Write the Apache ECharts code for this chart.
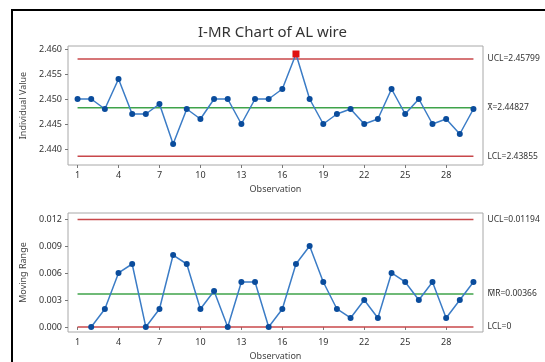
<!DOCTYPE html>
<html>
<head>
<meta charset="utf-8">
<script src="https://cdn.jsdelivr.net/npm/echarts@6/dist/echarts.min.js"></script>
<style>
  html, body { margin: 0; padding: 0; background: #fff; }
  #chart { width: 545px; height: 362px; }
</style>
</head>
<body>
<div id="chart"></div>
<script>
// ---- data ----
const observations = [1,2,3,4,5,6,7,8,9,10,11,12,13,14,15,16,17,18,19,20,21,22,23,24,25,26,27,28,29,30];
const individualValues = [2.450,2.450,2.448,2.454,2.447,2.447,2.449,2.441,2.448,2.446,
                          2.450,2.450,2.445,2.450,2.450,2.452,2.459,2.450,2.445,2.447,
                          2.448,2.445,2.446,2.452,2.447,2.450,2.445,2.446,2.443,2.448];
const movingRanges = [null,0.000,0.002,0.006,0.007,0.000,0.002,0.008,0.007,0.002,
                      0.004,0.000,0.005,0.005,0.000,0.002,0.007,0.009,0.005,0.002,
                      0.001,0.003,0.001,0.006,0.005,0.003,0.005,0.001,0.003,0.005];
const outOfControl = [17];
const xTickLabels = [1,4,7,10,13,16,19,22,25,28];
const iTickLabels = [2.440,2.445,2.450,2.455,2.460];
const mrTickLabels = [0.000,0.003,0.006,0.009,0.012];
const iLimits = [2.45799, 2.44827, 2.43855];   // UCL, X-bar, LCL
const mrLimits = [0.01194, 0.00366, 0];        // UCL, MR-bar, LCL
const iLimitLabels = ['UCL=2.45799', 'X\u0304=2.44827', 'LCL=2.43855'];
const mrLimitLabels = ['UCL=0.01194', 'M\u0304R\u0304=0.00366', 'LCL=0'];

// ---- styles ----
const FONT = 'Noto Sans';
const RED = '#c8474a', GREEN = '#3fa34a', LINE = '#3b7cc6', DOT = '#0a4c9c';
const first = observations[0], last = observations[observations.length - 1];

const iData = observations.map((o, i) => outOfControl.includes(o)
  ? { value: [o, individualValues[i]], symbol: 'rect', symbolSize: 7, itemStyle: { color: '#e01010' } }
  : [o, individualValues[i]]);
const mrData = observations.map((o, i) => [o, movingRanges[i]]).filter(d => d[1] !== null);

function limitSeries(xi, y, label, color) {
  return {
    type: 'line', xAxisIndex: xi, yAxisIndex: xi, z: 2,
    data: [[first, y], [last, y]], symbol: 'none', silent: true,
    lineStyle: { color: color, width: 1.5 },
    endLabel: { show: true, formatter: label, distance: 14, color: '#333', fontSize: 8.5, fontFamily: FONT }
  };
}

function xAxis(gi) {
  return {
    type: 'value', gridIndex: gi, min: 0.3, max: 30.7,
    name: 'Observation', nameLocation: 'middle', nameGap: 20,
    nameTextStyle: { color: '#444', fontSize: 9, fontFamily: FONT },
    axisLine: { show: false }, splitLine: { show: false },
    axisTick: { show: true, customValues: xTickLabels, length: 3, lineStyle: { color: '#777' } },
    axisLabel: { customValues: xTickLabels, margin: 6, color: '#333', fontSize: 9, fontFamily: FONT }
  };
}
function yAxis(gi, name, ticks, min, max) {
  return {
    type: 'value', gridIndex: gi, min: min, max: max,
    name: name, nameLocation: 'middle', nameGap: 33,
    nameTextStyle: { color: '#444', fontSize: 9, fontFamily: FONT },
    axisLine: { show: false }, splitLine: { show: false },
    axisTick: { show: true, customValues: ticks, length: 3, lineStyle: { color: '#777' } },
    axisLabel: { customValues: ticks, margin: 6, color: '#333', fontSize: 9, fontFamily: FONT,
                 formatter: v => v.toFixed(3) }
  };
}

const chart = echarts.init(document.getElementById('chart'));
chart.setOption({
  animation: false,
  backgroundColor: '#fff',
  title: {
    text: 'I-MR Chart of AL wire', left: 'center', top: 20,
    textStyle: { fontFamily: FONT, fontSize: 15, fontWeight: 'normal', color: '#333' }
  },
  graphic: [{
    type: 'rect', shape: { x: 12, y: 10, width: 600, height: 400 },
    style: { fill: 'none', stroke: '#000', lineWidth: 2 }, silent: true
  }],
  grid: [
    { left: 68, right: 62, top: 46, height: 119, show: true, borderColor: '#a8a8a8', borderWidth: 1 },
    { left: 68, right: 62, top: 213, height: 119, show: true, borderColor: '#a8a8a8', borderWidth: 1 }
  ],
  xAxis: [xAxis(0), xAxis(1)],
  yAxis: [
    yAxis(0, 'Individual Value', iTickLabels, 2.4368, 2.4606),
    yAxis(1, 'Moving Range', mrTickLabels, -0.00056, 0.01267)
  ],
  series: [
    limitSeries(0, iLimits[0], iLimitLabels[0], RED),
    limitSeries(0, iLimits[1], iLimitLabels[1], GREEN),
    limitSeries(0, iLimits[2], iLimitLabels[2], RED),
    limitSeries(1, mrLimits[0], mrLimitLabels[0], RED),
    limitSeries(1, mrLimits[1], mrLimitLabels[1], GREEN),
    limitSeries(1, mrLimits[2], mrLimitLabels[2], RED),
    {
      type: 'line', xAxisIndex: 0, yAxisIndex: 0, z: 5, data: iData,
      symbol: 'circle', symbolSize: 6,
      lineStyle: { color: LINE, width: 1.5 }, itemStyle: { color: DOT }
    },
    {
      type: 'line', xAxisIndex: 1, yAxisIndex: 1, z: 5, data: mrData,
      symbol: 'circle', symbolSize: 6,
      lineStyle: { color: LINE, width: 1.5 }, itemStyle: { color: DOT }
    }
  ]
});
</script>
</body>
</html>
